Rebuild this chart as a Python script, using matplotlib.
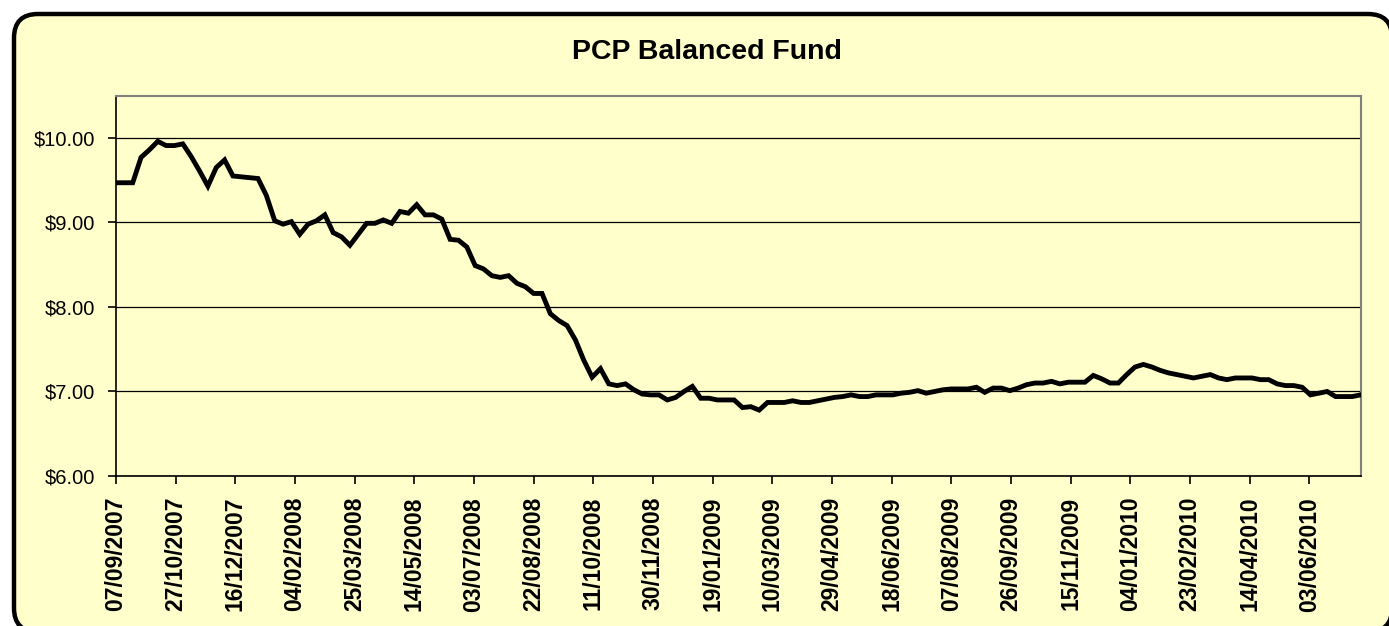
#!/usr/bin/env python3
"""PCP Balanced Fund weekly unit price, redrawn in the old excel look"""
import datetime as dt
import numpy as np
import pandas as pd
import matplotlib
matplotlib.use('Agg')
import matplotlib.pyplot as plt
import matplotlib.dates as mdates
from matplotlib.patches import FancyBboxPatch
from matplotlib.ticker import FuncFormatter

plt.rcParams['font.family'] = ['Liberation Sans', 'DejaVu Sans']

TITLE = 'PCP Balanced Fund'
START = '2007-09-07'

#weekly unit prices
prices = [
    9.47, 9.47, 9.47, 9.77, 9.86, 9.96, 9.91, 9.91, 9.93, 9.78,
    9.61, 9.43, 9.65, 9.74, 9.55, 9.54, 9.53, 9.52, 9.32, 9.02,
    8.98, 9.01, 8.86, 8.98, 9.02, 9.09, 8.88, 8.83, 8.73, 8.86,
    8.99, 8.99, 9.03, 8.99, 9.13, 9.11, 9.21, 9.09, 9.09, 9.04,
    8.80, 8.79, 8.71, 8.49, 8.45, 8.37, 8.35, 8.37, 8.28, 8.24,
    8.16, 8.16, 7.92, 7.84, 7.78, 7.61, 7.37, 7.17, 7.27, 7.09,
    7.07, 7.09, 7.02, 6.97, 6.96, 6.96, 6.90, 6.93, 7.00, 7.06,
    6.92, 6.92, 6.90, 6.90, 6.90, 6.81, 6.82, 6.78, 6.87, 6.87,
    6.87, 6.89, 6.87, 6.87, 6.89, 6.91, 6.93, 6.94, 6.96, 6.94,
    6.94, 6.96, 6.96, 6.96, 6.98, 6.99, 7.01, 6.98, 7.00, 7.02,
    7.03, 7.03, 7.03, 7.05, 6.99, 7.04, 7.04, 7.01, 7.04, 7.08,
    7.10, 7.10, 7.12, 7.09, 7.11, 7.11, 7.11, 7.19, 7.15, 7.10,
    7.10, 7.20, 7.29, 7.32, 7.29, 7.25, 7.22, 7.20, 7.18, 7.16,
    7.18, 7.20, 7.16, 7.14, 7.16, 7.16, 7.16, 7.14, 7.14, 7.09,
    7.07, 7.07, 7.05, 6.96, 6.98, 7.00, 6.94, 6.94, 6.94, 6.96,
]
dates = pd.date_range(START, periods=len(prices), freq='7D')

#excel put a label every 50 days
tick_dates = pd.date_range(START, periods=21, freq='50D')
y_ticks = [6, 7, 8, 9, 10]

BG = '#FFFFCC'
W, H = 1389, 626

fig = plt.figure(figsize=(W / 100, H / 100), dpi=100)
fig.patch.set_facecolor('white')

#rounded chart frame, drawn in pixel units on a hidden axes
bg = fig.add_axes([0, 0, 1, 1])
bg.set_xlim(0, W)
bg.set_ylim(H, 0)
bg.axis('off')
frame = FancyBboxPatch((14, 14), 1392 - 14, 632 - 14,
                       boxstyle='round,pad=0,rounding_size=24',
                       facecolor=BG, edgecolor='black', linewidth=3.2)
bg.add_patch(frame)

ax = fig.add_axes([116 / W, 1 - 476 / H, (1360.6 - 116) / W, (476 - 95.7) / H])
ax.set_facecolor(BG)
ax.plot(dates, prices, color='black', linewidth=3.5, solid_joinstyle='miter',
        zorder=3)

ax.set_xlim(dates[0], dates[-1])
ax.set_ylim(6, 10.5)
ax.set_yticks(y_ticks)
ax.yaxis.set_major_formatter(FuncFormatter(lambda v, p: '$%.2f' % v))
ax.set_xticks(tick_dates)
ax.xaxis.set_major_formatter(mdates.DateFormatter('%d/%m/%Y'))

ax.grid(True, axis='y', color='black', linewidth=0.9)
ax.set_axisbelow(True)

for side in ['left', 'bottom']:
    ax.spines[side].set_color('black')
    ax.spines[side].set_linewidth(1.2)
for side in ['top', 'right']:
    ax.spines[side].set_color('#808080')
    ax.spines[side].set_linewidth(1.5)

ax.tick_params(axis='y', direction='out', length=6, width=1.2, pad=9,
               labelsize=14.5)
ax.tick_params(axis='x', direction='out', length=6, width=1.2, pad=9,
               labelsize=16.5, labelrotation=90)
for lab in ax.get_xticklabels():
    lab.set_fontweight('bold')

fig.text(707 / W, 1 - 52 / H, TITLE, ha='center', va='center',
         fontsize=20.5, fontweight='bold')

fig.savefig('out.png', dpi=100, facecolor=fig.get_facecolor())
